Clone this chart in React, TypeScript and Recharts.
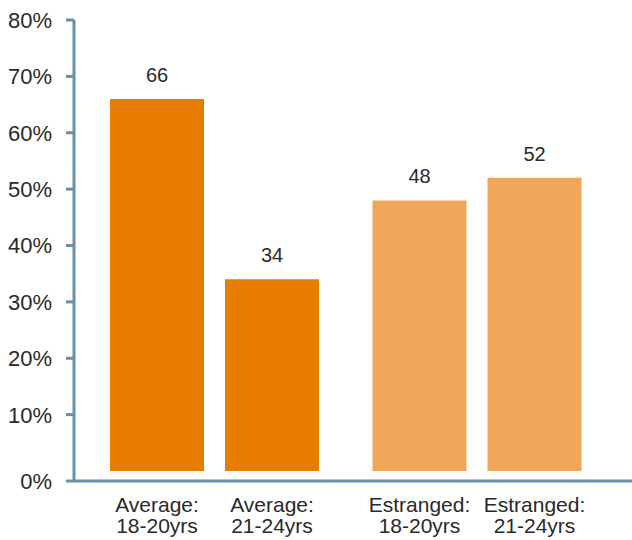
import { BarChart, Bar, XAxis, YAxis, Cell, LabelList } from "recharts";

// values
const groups = ["Average:", "Estranged:"];
const ageBands = ["18-20yrs", "21-24yrs"];
const share1820 = [66, 48];
const share2124 = [34, 52];
const yTicks = [0, 10, 20, 30, 40, 50, 60, 70, 80];
const groupColors = ["#E77C00", "#F0A65A"];

const AXIS = "#6A90A8";
const TEXT = "#2a2a2a";
const FONT = "'Liberation Sans', Arial, sans-serif";
const ZERO_PAD = 10; // gap between bar bottoms and the x axis line
const TICK_SIZE = 8;
const TICK_MARGIN = 14;

const data = groups.map((g, i) => ({
  group: g,
  young: share1820[i],
  older: share2124[i],
}));

// y tick: the 0% label sits on the axis line rather than at the bar base
const YTick = ({ x, y, payload }: any) => {
  const yy = payload.value === 0 ? y + ZERO_PAD : y;
  return (
    <g>
      <line
        x1={x + TICK_MARGIN}
        x2={x + TICK_MARGIN + TICK_SIZE}
        y1={yy}
        y2={yy}
        stroke={AXIS}
        strokeWidth={3}
      />
      <text
        x={x}
        y={yy}
        dy="0.36em"
        textAnchor="end"
        fontSize={22}
        fill={TEXT}
        fontFamily={FONT}
      >
        {payload.value}%
      </text>
    </g>
  );
};

// two-line category label drawn under each bar
const makeCategoryLabel = (band: string) => (props: any) => {
  const vb = props.viewBox ?? props;
  const { x, y, width, height } = vb;
  const cx = x + width / 2;
  const base = y + height + ZERO_PAD;
  return (
    <g>
      <text x={cx} y={base + 31} textAnchor="middle" fontSize={21} fill={TEXT} fontFamily={FONT}>
        {groups[props.index]}
      </text>
      <text x={cx} y={base + 52} textAnchor="middle" fontSize={21} fill={TEXT} fontFamily={FONT}>
        {band}
      </text>
    </g>
  );
};

export default function App() {
  return (
    <div style={{ position: "absolute", left: 0, top: 0, background: "#fff" }}>
      <BarChart
        width={632}
        height={540}
        data={data}
        margin={{ top: 20, right: 0, bottom: 0, left: 0 }}
        barSize={94}
        barGap={21}
      >
        <XAxis
          dataKey="group"
          height={59}
          tick={false}
          tickLine={false}
          axisLine={{ stroke: AXIS, strokeWidth: 3 }}
          padding={{ left: 9, right: 24 }}
        />
        <YAxis
          width={74}
          domain={[0, 80]}
          ticks={yTicks}
          interval={0}
          tickSize={TICK_SIZE}
          tickMargin={TICK_MARGIN}
          tickLine={false}
          tick={<YTick />}
          axisLine={{ stroke: AXIS, strokeWidth: 3 }}
          padding={{ top: 0, bottom: ZERO_PAD }}
        />
        <Bar dataKey="young" isAnimationActive={false}>
          {data.map((_, i) => (
            <Cell key={i} fill={groupColors[i]} />
          ))}
          <LabelList
            dataKey="young"
            position="top"
            offset={17}
            fontSize={20}
            fill={TEXT}
            fontFamily={FONT}
          />
          <LabelList dataKey="group" content={makeCategoryLabel(ageBands[0])} />
        </Bar>
        <Bar dataKey="older" isAnimationActive={false}>
          {data.map((_, i) => (
            <Cell key={i} fill={groupColors[i]} />
          ))}
          <LabelList
            dataKey="older"
            position="top"
            offset={17}
            fontSize={20}
            fill={TEXT}
            fontFamily={FONT}
          />
          <LabelList dataKey="group" content={makeCategoryLabel(ageBands[1])} />
        </Bar>
      </BarChart>
    </div>
  );
}
